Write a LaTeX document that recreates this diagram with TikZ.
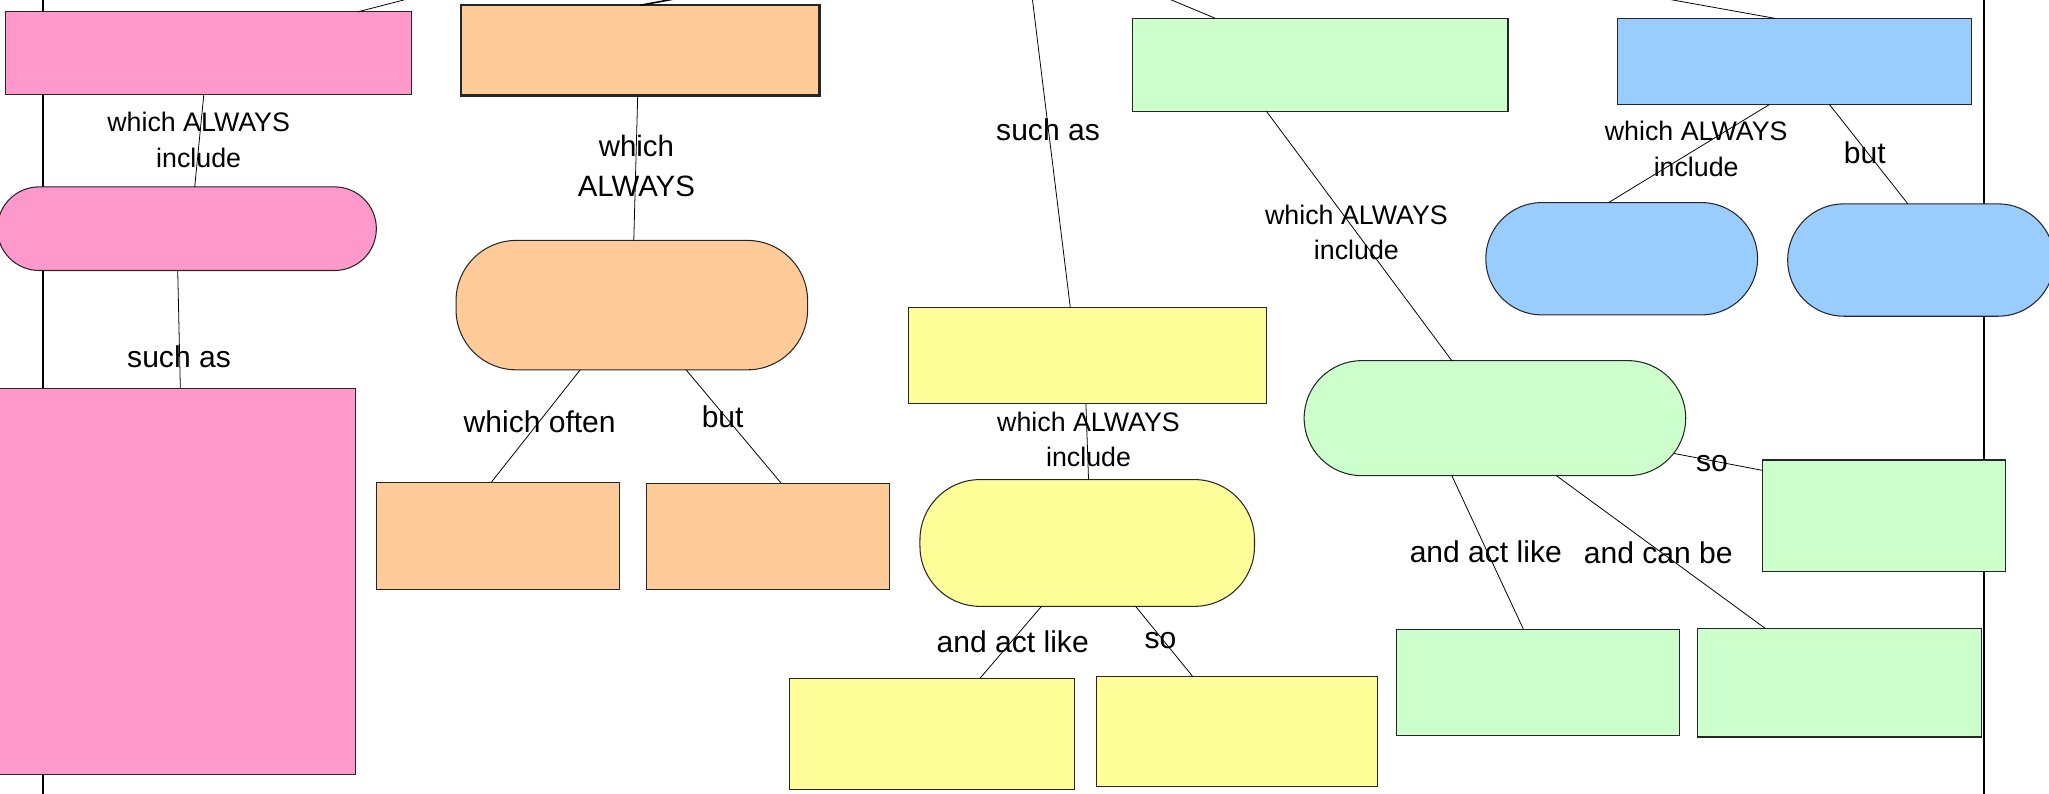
\documentclass[tikz,border=0pt]{standalone}
\usepackage{fontspec}
\setmainfont{Liberation Sans}
\usepackage{tikz}
\usetikzlibrary{positioning,calc}
\definecolor{pinkc}{RGB}{255,153,204}
\definecolor{orangec}{RGB}{255,204,153}
\definecolor{yellowc}{RGB}{255,255,153}
\definecolor{greenc}{RGB}{204,255,204}
\definecolor{bluec}{RGB}{153,204,255}

\begin{document}
\begin{tikzpicture}[
	x=1pt, y=-1pt,
	cbox/.style={ % hộp chữ nhật
		draw=black!85, line width=0.8pt,
		inner sep=0pt, outer sep=0pt,
		anchor=center
	},
	pill/.style={ % hộp bo tròn hai đầu
		cbox, rounded corners=#1
	},
	link_line/.style={ % đường nối
		draw=black, line width=0.6pt
	},
	border_line/.style={ % lề trang
		draw=black, line width=1.6pt
	},
	lbl/.style={
		font=\fontsize{23}{28}\selectfont,
		align=center, inner sep=0pt
	},
	lbl_small/.style={
		font=\fontsize{20.5}{27}\selectfont,
		align=center, inner sep=0pt
	}
	]
	
	\useasboundingbox (0,0) rectangle (1568,607);
	\clip (0,0) rectangle (1568,607);
	
	% lề trái, lề phải
	\coordinate (lmTop) at (33,-10);
	\coordinate (lmBot) at (33,620);
	\coordinate (rmTop) at (1518,-10);
	\coordinate (rmBot) at (1518,620);
	\draw[border_line] (lmTop) -- (lmBot);
	\draw[border_line] (rmTop) -- (rmBot);
	
	% ================= PINK =================
	\node[cbox, fill=pinkc, minimum width=311pt, minimum height=63pt] (pk1) at (159.5,40.5) {};
	\node[pill=32pt, fill=pinkc, minimum width=290pt, minimum height=64pt] (pkpill) at (143,175) {};
	\node[cbox, fill=pinkc, minimum width=273pt, minimum height=296pt] (pk2) at (135.5,445) {};
	\coordinate (pkUp) at (344,-9);
	
	\draw[link_line] ([xshift=114.5pt]pk1.north) -- (pkUp);
	\draw[link_line] ([xshift=-3.5pt]pk1.south) -- ([xshift=6pt]pkpill.north);
	\draw[link_line] ([xshift=-7pt]pkpill.south) -- ([xshift=2.5pt]pk2.north);
	\node[lbl_small] (pkL1) at (152,107) {which ALWAYS\\include};
	\node[lbl] (pkL2) at (137,273) {such as};
	
	% ================= ORANGE =================
	\node[cbox, fill=orangec, line width=1.8pt, minimum width=274pt, minimum height=69pt] (or1) at (490,38.5) {};
	\node[pill=46pt, fill=orangec, minimum width=269pt, minimum height=99pt] (orpill) at (483.5,233.5) {};
	\node[cbox, fill=orangec, minimum width=186pt, minimum height=82pt] (or2) at (381,410) {};
	\node[cbox, fill=orangec, minimum width=186pt, minimum height=81pt] (or3) at (588,410.5) {};
	\coordinate (orUp) at (561,-9);
	
	\draw[link_line, line width=1.2pt] (or1.north) -- (orUp);
	\draw[link_line] ([xshift=-2pt]or1.south) -- ([xshift=1.5pt]orpill.north);
	\draw[link_line] ([xshift=-39.5pt]orpill.south) -- ([xshift=-5pt]or2.north);
	\draw[link_line] ([xshift=41.5pt]orpill.south) -- ([xshift=10pt]or3.north);
	\node[lbl, font=\fontsize{22.5}{30}\selectfont] (orL1) at (487,127) {which\\ALWAYS};
	\node[lbl] (orL2) at (413,323) {which often};
	\node[lbl] (orL3) at (553,319) {but};
	
	% ================= YELLOW =================
	\node[cbox, fill=yellowc, minimum width=274pt, minimum height=74pt] (ye1) at (832,272) {};
	\node[pill=46pt, fill=yellowc, minimum width=256pt, minimum height=97pt] (yepill) at (832,415.5) {};
	\node[cbox, fill=yellowc, minimum width=218pt, minimum height=85pt] (ye2) at (713,561.5) {};
	\node[cbox, fill=yellowc, minimum width=215pt, minimum height=84pt] (ye3) at (946.5,560) {};
	\coordinate (yeUp) at (789,-9);
	
	\draw[link_line] (yeUp) -- ([xshift=-13pt]ye1.north);
	\draw[link_line] ([xshift=-1pt]ye1.south) -- ([xshift=1pt]yepill.north);
	\draw[link_line] ([xshift=-35pt]yepill.south) -- ([xshift=37pt]ye2.north);
	\draw[link_line] ([xshift=37pt]yepill.south) -- ([xshift=-33.5pt]ye3.north);
	\node[lbl] (yeL1) at (802,99) {such as};
	\node[lbl_small] (yeL2) at (833,336) {which ALWAYS\\include};
	\node[lbl] (yeL3) at (775,491) {and act like};
	\node[lbl] (yeL4) at (888,490) {so};
	
	% ================= GREEN =================
	\node[cbox, fill=greenc, minimum width=287pt, minimum height=71pt] (gr1) at (1010.5,49.5) {};
	\node[pill=44pt, fill=greenc, minimum width=292pt, minimum height=88pt] (grpill) at (1144,320) {};
	\node[cbox, fill=greenc, minimum width=186pt, minimum height=85pt] (gr2) at (1442,394.5) {};
	\node[cbox, fill=greenc, minimum width=216pt, minimum height=81pt] (gr3) at (1177,522.5) {};
	\node[cbox, fill=greenc, minimum width=217pt, minimum height=83pt] (gr4) at (1407.5,522.5) {};
	\coordinate (grUp) at (875,-9);
	
	\draw[link_line] (grUp) -- ([xshift=-80.5pt]gr1.north);
	\draw[link_line] ([xshift=-41.5pt]gr1.south) -- ([xshift=-33pt]grpill.north);
	\draw[link_line] ([shift={(137,27)}]grpill.center) -- ([shift={(0,8)}]gr2.north west);
	\draw[link_line] ([xshift=-33pt]grpill.south) -- ([xshift=-11pt]gr3.north);
	\draw[link_line] ([xshift=47pt]grpill.south) -- ([xshift=-56.5pt]gr4.north);
	\node[lbl_small] (grL1) at (1038,178) {which ALWAYS\\include};
	\node[lbl] (grL2) at (1310,355) {so};
	\node[lbl] (grL3) at (1137,422) {and act like};
	\node[lbl] (grL4) at (1269,423) {and can be};
	
	% ================= BLUE =================
	\node[cbox, fill=bluec, minimum width=271pt, minimum height=66pt] (bl1) at (1373.5,47) {};
	\node[pill=43pt, fill=bluec, minimum width=208pt, minimum height=86pt] (blpill1) at (1241,198) {};
	\node[pill=43pt, fill=bluec, minimum width=204pt, minimum height=86pt] (blpill2) at (1470,199) {};
	\coordinate (blUp) at (1230,-9);
	
	\draw[link_line] (blUp) -- ([xshift=-15.5pt]bl1.north);
	\draw[link_line] ([xshift=-19.5pt]bl1.south) -- ([xshift=-10pt]blpill1.north);
	\draw[link_line] ([xshift=26.5pt]bl1.south) -- ([xshift=-10pt]blpill2.north);
	\node[lbl_small] (blL1) at (1298,114) {which ALWAYS\\include};
	\node[lbl] (blL2) at (1427,117) {but};
	
\end{tikzpicture}
\end{document}
